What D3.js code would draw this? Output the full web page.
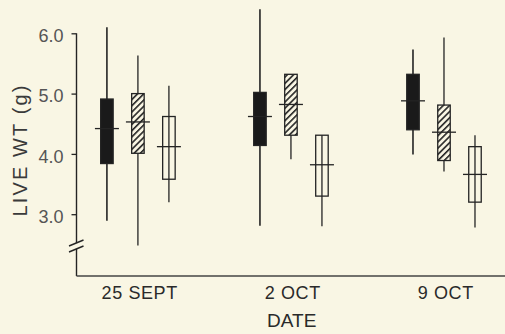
<!DOCTYPE html>
<html>
<head>
<meta charset="utf-8">
<script src="https://cdn.jsdelivr.net/npm/d3@7"></script>
<style>
  html, body { margin: 0; padding: 0; background: #f9f6e4; }
  svg { display: block; }
  text { font-family: "Liberation Sans", Arial, Helvetica, sans-serif; }
</style>
</head>
<body>
<svg id="chart" width="505" height="334"></svg>
<script>
// ---- data ----
const dates = ["25 SEPT", "2 OCT", "9 OCT"];
const groups = ["solid", "hatched", "open"];
const yTicks = [3, 4, 5, 6];
// [min, q1, median, q3, max] for each date, per group
const solidVals   = [[2.89, 3.84, 4.42, 4.91, 6.10], [2.81, 4.14, 4.62, 5.02, 6.40], [3.99, 4.40, 4.88, 5.32, 5.73]];
const hatchedVals = [[2.48, 4.01, 4.53, 5.00, 5.63], [3.91, 4.31, 4.82, 5.32, 5.32], [3.71, 3.89, 4.36, 4.81, 5.93]];
const openVals    = [[3.20, 3.58, 4.12, 4.62, 5.13], [2.80, 3.30, 3.82, 4.31, 4.31], [2.78, 3.20, 3.66, 4.12, 4.31]];
const yLabel = "LIVE WT (g)";
const xLabel = "DATE";

const seriesVals = { solid: solidVals, hatched: hatchedVals, open: openVals };

// ---- layout ----
const svg = d3.select("#chart");
const axisX = 76.5, baseY = 276, rightX = 505;
const breakY = 246;

const y = d3.scaleLinear().domain([3, 6]).range([214.2, 33.3]);
const x = d3.scalePoint().domain(dates).range([axisX, rightX]).padding(0.4);
const xInner = d3.scalePoint().domain(groups).range([-30.8, 31.2]);

const ink = "#242424";

// hatch pattern
const defs = svg.append("defs");
const pat = defs.append("pattern")
  .attr("id", "hatch").attr("patternUnits", "userSpaceOnUse")
  .attr("width", 4.4).attr("height", 4.4)
  .attr("patternTransform", "rotate(45)");
pat.append("rect").attr("width", 4.4).attr("height", 4.4).attr("fill", "#f9f6e4");
pat.append("line").attr("x1", 0.8).attr("y1", 0).attr("x2", 0.8).attr("y2", 4.4)
  .attr("stroke", ink).attr("stroke-width", 1.6);

// y axis (ticks + labels)
const yAxis = d3.axisLeft(y).tickValues(yTicks).tickFormat(d3.format(".1f"))
  .tickSize(5).tickPadding(8);
const gy = svg.append("g").attr("transform", `translate(${axisX},0)`).call(yAxis);
gy.select(".domain").remove();
gy.selectAll(".tick line").attr("stroke", ink).attr("stroke-width", 1.3);
gy.selectAll(".tick text")
  .attr("fill", "#555").attr("font-size", 18).attr("dy", "0.45em")
  .style("font-family", "'Liberation Sans', Arial, sans-serif");

// axis line with break
svg.append("line").attr("x1", axisX).attr("x2", axisX)
  .attr("y1", y(6)).attr("y2", breakY - 3)
  .attr("stroke", ink).attr("stroke-width", 1.4);
svg.append("line").attr("x1", axisX).attr("x2", axisX)
  .attr("y1", breakY + 3).attr("y2", baseY)
  .attr("stroke", ink).attr("stroke-width", 1.4);
[-3, 3].forEach(off => {
  svg.append("line")
    .attr("x1", axisX - 7.5).attr("y1", breakY + off + 3)
    .attr("x2", axisX + 7).attr("y2", breakY + off - 3)
    .attr("stroke", ink).attr("stroke-width", 1.4);
});
// baseline
svg.append("line").attr("x1", axisX).attr("x2", rightX)
  .attr("y1", baseY).attr("y2", baseY)
  .attr("stroke", "#444").attr("stroke-width", 1.4);

// boxes
const boxW = 12.5, medHalf = 12;
dates.forEach((d, i) => {
  groups.forEach(g => {
    const [mn, q1, md, q3, mx] = seriesVals[g][i];
    const cx = x(d) + xInner(g);
    const gg = svg.append("g");
    gg.append("line").attr("x1", cx).attr("x2", cx)
      .attr("y1", y(mx)).attr("y2", y(mn))
      .attr("stroke", ink).attr("stroke-width", g === "solid" ? 1.6 : 1.3);
    gg.append("rect")
      .attr("x", cx - boxW / 2).attr("width", boxW)
      .attr("y", y(q3)).attr("height", y(q1) - y(q3))
      .attr("fill", g === "solid" ? "#1a1a1a" : g === "hatched" ? "url(#hatch)" : "none")
      .attr("stroke", ink).attr("stroke-width", 1.3);
    gg.append("line").attr("x1", cx - medHalf).attr("x2", cx + medHalf)
      .attr("y1", y(md)).attr("y2", y(md))
      .attr("stroke", ink).attr("stroke-width", 1.3);
  });
});

// category labels
svg.selectAll("text.cat").data(dates).enter().append("text")
  .attr("class", "cat")
  .attr("x", d => x(d) + 2).attr("y", 299)
  .attr("text-anchor", "middle")
  .attr("font-size", 18).attr("letter-spacing", 0.6)
  .attr("fill", "#2a2a2a").text(d => d);

// x title
svg.append("text").attr("x", x(dates[1]) + 1).attr("y", 327)
  .attr("text-anchor", "middle").attr("font-size", 19)
  .attr("fill", "#2a2a2a").text(xLabel);

// y title
svg.append("text")
  .attr("transform", `translate(26.5,151) rotate(-90)`)
  .attr("text-anchor", "middle").attr("font-size", 20)
  .attr("textLength", 131).attr("lengthAdjust", "spacing")
  .attr("fill", "#3a3a3a").text(yLabel);
</script>
</body>
</html>
